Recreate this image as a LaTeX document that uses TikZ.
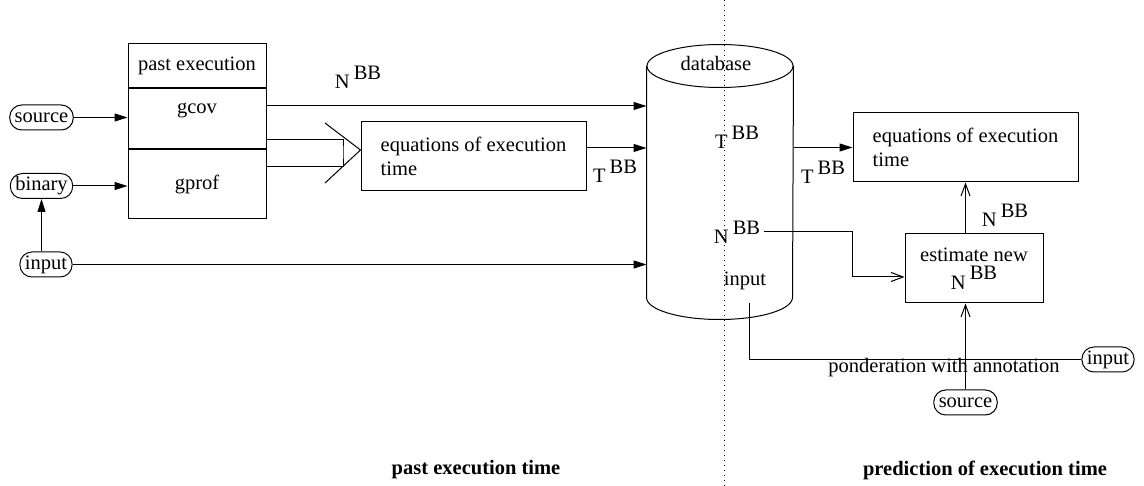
\documentclass[tikz,border=0pt]{standalone}
\usepackage{fontspec}
\setmainfont{Liberation Serif}
\usepackage{tikz}
\usetikzlibrary{arrows.meta,positioning,calc}
\newcommand{\withbb}[1]{#1\hspace{0.2em}\raisebox{0.45em}{BB}}

\begin{document}
\begin{tikzpicture}[
    x=1pt, y=-1pt,
    line width=1pt,
    every node/.style={font=\fontsize{20.5}{24.5}\selectfont, inner sep=3pt},
    cell/.style={rectangle, draw, minimum width=138pt},
    eqbox/.style={rectangle, draw, minimum width=225pt, minimum height=69pt, align=left},
    oval/.style={rectangle, draw, rounded corners=12pt, minimum height=25pt, inner xsep=5pt},
    farrow/.style={-{Triangle[length=13pt,width=8pt]}},
    oarrow/.style={-{Straight Barb[length=12pt,width=9pt]}},
    sep/.style={dash pattern=on 1pt off 4pt}
]
    \useasboundingbox (0,0) rectangle (1144,486);

    % Nodes
    \node[cell, minimum height=44pt] (pasthead) at (197,66) {past execution};
    \node[cell, minimum height=60pt, below=0pt of pasthead,
          label={[anchor=center, yshift=-22pt]north:gcov}] (gcov) {};
    \node[cell, minimum height=69pt, below=0pt of gcov] (gprof) {gprof};

    \node[oval] (source) at (41.5,117.5) {source};
    \node[oval] (binary) at (41.5,186) {binary};
    \node[oval] (inputl) at (46,264.5) {input};

    \node[eqbox] (eqpast) at (473.5,156.5) {equations of execution\\time};

    \node[minimum width=146pt, minimum height=274pt, inner sep=0pt] (db) at (720,182) {};
    \node (dblabel) at (716,63) {database};
    \node (tbbdb) at (737,137) {\withbb{T}};
    \node (nbbdb) at (737,232) {\withbb{N}};
    \node (inputdb) at (745,281) {input};

    \node[eqbox] (eqnew) at (965.5,147.5) {equations of execution\\time};
    \node[cell, minimum height=69pt, align=center] (estimate) at (974,268.5) {estimate new\\[3pt]\withbb{N}};
    \node[oval] (inputr) at (1108,359.5) {input};
    \node[oval] (srcr) at (965.5,402.5) {source};

    \node (nbbtop) at (358,77) {\withbb{N}};
    \node (tbbpast) at (615,171) {\withbb{T}};
    \node (tbbnew) at (823,172) {\withbb{T}};
    \node (nbbnew) at (1005,215) {\withbb{N}};
    \node (pond) at (944,368) {ponderation with annotation};

    \node[font=\fontsize{20.5}{24.5}\selectfont\bfseries] (pasttime) at (476,470) {past execution time};
    \node[font=\fontsize{20.5}{24.5}\selectfont\bfseries] (predtime) at (985,470) {prediction of execution time};

    % database cylinder
    \draw ([yshift=-21.5pt]db.north) ellipse[x radius=73pt, y radius=21.5pt];
    \draw ([yshift=-21.5pt]db.north west) -- ([yshift=22pt]db.south west)
        arc[start angle=180, end angle=360, x radius=73pt, y radius=22pt]
        -- ([yshift=-21.5pt]db.north east);

    % separation
    \draw[sep] (724,0) -- (724,486);

    % Edges
    \draw[farrow] (source.east) -- (source.east -| gcov.west);
    \draw[farrow] (binary.east) -- (binary.east -| gprof.west);
    \draw[farrow] (binary.south |- inputl.north) -- (binary.south);
    \draw[farrow] (inputl.east) -- (inputl.east -| db.west);
    \draw[farrow] ([yshift=13pt]gcov.east) coordinate (g) -- (g -| db.west);

    \coordinate (vjoin) at (343,152);
    \draw ([yshift=-21pt]gcov.east) -| (vjoin) |- ([yshift=17.5pt]gprof.east);
    \draw (325,123) -- (eqpast.west |- 0,150) -- (325,183);
    \draw[farrow] ([yshift=8.5pt]eqpast.east) coordinate (e) -- (e -| db.west);

    \draw[farrow] (eqnew.west -| db.east) -- (eqnew.west);
    \draw[oarrow] (nbbdb.east) -| ([xshift=-52pt, yshift=-8.5pt]estimate.west) -- ([yshift=-8.5pt]estimate.west);
    \draw ([xshift=4pt, yshift=-10pt]inputdb.south) |- (inputr.west);
    \draw[oarrow] (srcr.north) -- (srcr.north |- estimate.south);
    \draw[oarrow] (srcr.north |- estimate.north) -- (srcr.north |- eqnew.south);
\end{tikzpicture}
\end{document}
